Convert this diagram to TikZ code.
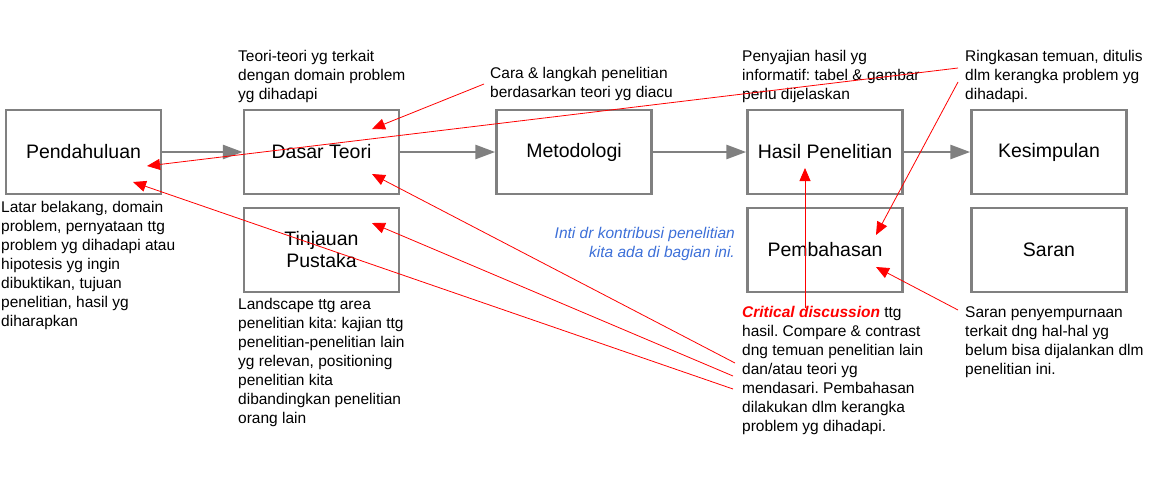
\documentclass[tikz,border=0pt]{standalone}
\usepackage{fontspec}
\setmainfont{Liberation Sans}
\usetikzlibrary{arrows.meta}
\definecolor{boxgray}{HTML}{808080}
\definecolor{bluetxt}{HTML}{3C6FD8}
\definecolor{redln}{HTML}{FF0000}
\frenchspacing
\tikzset{
  box/.style={draw=boxgray, line width=2.5pt, minimum width=155pt, minimum height=84pt, inner sep=0pt, align=center, font=\fontsize{19.5}{22}\selectfont},
  flow/.style={draw=boxgray, line width=2.8pt, -{Triangle[length=20pt,width=14pt]}},
  note/.style={anchor=north west, inner sep=0pt, align=left, font=\fontsize{15.5}{19}\selectfont},
  rednote/.style={draw=redln, line width=0.8pt, -{Triangle[length=13pt,width=11pt]}},
}
\begin{document}
\begin{tikzpicture}[x=1pt,y=-1pt]
\useasboundingbox (0,0) rectangle (1152,480);
% boxes
\node[box] (pend) at (83.5,152) {Pendahuluan};
\node[box] (dasar) at (321.5,152) {Dasar Teori};
\node[box] (tinj) at (321.5,250) {Tinjauan\\Pustaka};
\node[box] (metod) at (574,152) {Metodologi};
\node[box] (hasil) at (825,152) {Hasil Penelitian};
\node[box] (pemb) at (825,250) {Pembahasan};
\node[box] (kesim) at (1049,152) {Kesimpulan};
\node[box] (saran) at (1049,250) {Saran};
% flow arrows
\draw[flow] (pend.east) -- (dasar.west);
\draw[flow] (dasar.east) -- (metod.west);
\draw[flow] (metod.east) -- (hasil.west);
\draw[flow] (hasil.east) -- (kesim.west);
% notes
\node[note] (nteori) at (238,50) {Teori-teori yg terkait\\dengan domain problem\\yg dihadapi};
\node[note] (ncara) at (490,67) {Cara \& langkah penelitian\\berdasarkan teori yg diacu};
\node[note] (npenyajian) at (742,50) {Penyajian hasil yg\\informatif: tabel \& gambar\\perlu dijelaskan};
\node[note] (nringkas) at (965,50) {Ringkasan temuan, ditulis\\dlm kerangka problem yg\\dihadapi.};
\node[note] (nlatar) at (1,201) {Latar belakang, domain\\problem, pernyataan ttg\\problem yg dihadapi atau\\hipotesis yg ingin\\dibuktikan, tujuan\\penelitian, hasil yg\\diharapkan};
\node[note] (nland) at (238,298) {Landscape ttg area\\penelitian kita: kajian ttg\\penelitian-penelitian lain\\yg relevan, positioning\\penelitian kita\\dibandingkan penelitian\\orang lain};
\node[note] (ncrit) at (742,306) {{\color{redln}\bfseries\itshape Critical discussion} ttg\\hasil. Compare \& contrast\\dng temuan penelitian lain\\dan/atau teori yg\\mendasari. Pembahasan\\dilakukan dlm kerangka\\problem yg dihadapi.};
\node[note] (nsaran) at (965,306) {Saran penyempurnaan\\terkait dng hal-hal yg\\belum bisa dijalankan dlm\\penelitian ini.};
\node[note, anchor=north east, align=right, text=bluetxt, font=\fontsize{15.5}{19}\selectfont\itshape] (nblue) at (735,227) {Inti dr kontribusi penelitian\\kita ada di bagian ini.};
% red connector endpoints
\coordinate (s1) at (484,84);   \coordinate (e1) at (372,129);
\coordinate (s2) at (958,68);   \coordinate (e2) at (147,166);
\coordinate (s3) at (958,82);   \coordinate (e3) at (876,235);
\coordinate (s4) at (805,308);  \coordinate (e4) at (805,168);
\coordinate (s5) at (958,310);  \coordinate (e5) at (876,267);
\coordinate (s6) at (735,363);  \coordinate (e6) at (372,174);
\coordinate (s7) at (733,376);  \coordinate (e7) at (372,223);
\coordinate (s8) at (733,389);  \coordinate (e8) at (133,182);
\draw[rednote] (s1) -- (e1);
\draw[rednote] (s2) -- (e2);
\draw[rednote] (s3) -- (e3);
\draw[rednote] (s4) -- (e4);
\draw[rednote] (s5) -- (e5);
\draw[rednote] (s6) -- (e6);
\draw[rednote] (s7) -- (e7);
\draw[rednote] (s8) -- (e8);
\end{tikzpicture}
\end{document}
